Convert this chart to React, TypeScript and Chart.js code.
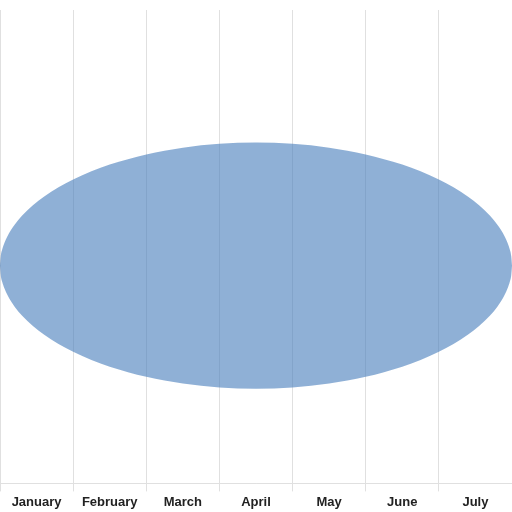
import React, { useEffect, useRef } from "react";
import { Chart, registerables } from "chart.js";

Chart.register(...registerables);

const categories = ["January", "February", "March", "April", "May", "June", "July"];

// Outline of the filled shape (x in category-index units)
const shapeX = [
  -0.5, -0.49, -0.47, -0.44, -0.4, -0.35, -0.3, -0.2, -0.05, 0.1, 0.3, 0.5, 0.75, 1, 1.5, 2, 2.5,
  3,
  3.5, 4, 4.5, 5, 5.25, 5.5, 5.7, 5.9, 6.05, 6.2, 6.3, 6.35, 6.4, 6.44, 6.47, 6.49, 6.5,
];
const upperY = [
  46, 47.96, 49.4, 50.79, 52.17, 53.53, 54.66, 56.53, 58.75, 60.56, 62.54, 64.2, 65.92, 67.34, 69.49, 70.92, 71.73,
  72,
  71.73, 70.92, 69.49, 67.34, 65.92, 64.2, 62.54, 60.56, 58.75, 56.53, 54.66, 53.53, 52.17, 50.79, 49.4, 47.96, 46,
];
const lowerY = [
  46, 44.04, 42.6, 41.21, 39.83, 38.47, 37.34, 35.47, 33.25, 31.44, 29.46, 27.8, 26.08, 24.66, 22.51, 21.08, 20.27,
  20,
  20.27, 21.08, 22.51, 24.66, 26.08, 27.8, 29.46, 31.44, 33.25, 35.47, 37.34, 38.47, 39.83, 41.21, 42.6, 44.04, 46,
];

export default function App() {
  const ref = useRef<HTMLCanvasElement | null>(null);
  useEffect(() => {
    if (!ref.current) return;
    const toPts = (ys: number[]) => shapeX.map((x, i) => ({ x, y: ys[i] }));
    const fillColor = "rgba(68,123,187,0.6)";
    const chart = new Chart(ref.current, {
      type: "line",
      data: {
        labels: categories,
        datasets: [
          {
            label: "upper",
            data: toPts(upperY),
            xAxisID: "xe",
            yAxisID: "y",
            borderWidth: 0,
            pointRadius: 0,
            cubicInterpolationMode: "monotone",
            backgroundColor: fillColor,
            borderColor: "rgba(0,0,0,0)",
            fill: "+1",
          },
          {
            label: "lower",
            data: toPts(lowerY),
            xAxisID: "xe",
            yAxisID: "y",
            borderWidth: 0,
            pointRadius: 0,
            cubicInterpolationMode: "monotone",
            backgroundColor: fillColor,
            borderColor: "rgba(0,0,0,0)",
            fill: false,
          },
        ],
      },
      options: {
        animation: false,
        responsive: true,
        maintainAspectRatio: false,
        layout: { padding: { top: 10, left: 0, right: 0, bottom: -1 } },
        plugins: { legend: { display: false }, tooltip: { enabled: false } },
        scales: {
          x: {
            type: "category",
            offset: true,
            grid: { offset: true, color: "rgba(0,0,0,0.12)", tickLength: 8 },
            border: { color: "rgba(0,0,0,0.12)" },
            ticks: {
              color: "#222",
              font: { family: "'Liberation Sans', Arial, sans-serif", size: 13, weight: "bold" },
              maxRotation: 0,
              autoSkip: false,
            },
          },
          xe: { type: "linear", display: false, min: -0.5, max: 6.5 },
          y: { type: "linear", display: false, min: 0, max: 100 },
        },
      },
    });
    return () => chart.destroy();
  }, []);
  return (
    <div style={{ position: "fixed", left: 0, top: 0, width: 512, height: 512, background: "#fff" }}>
      <canvas ref={ref} />
    </div>
  );
}
